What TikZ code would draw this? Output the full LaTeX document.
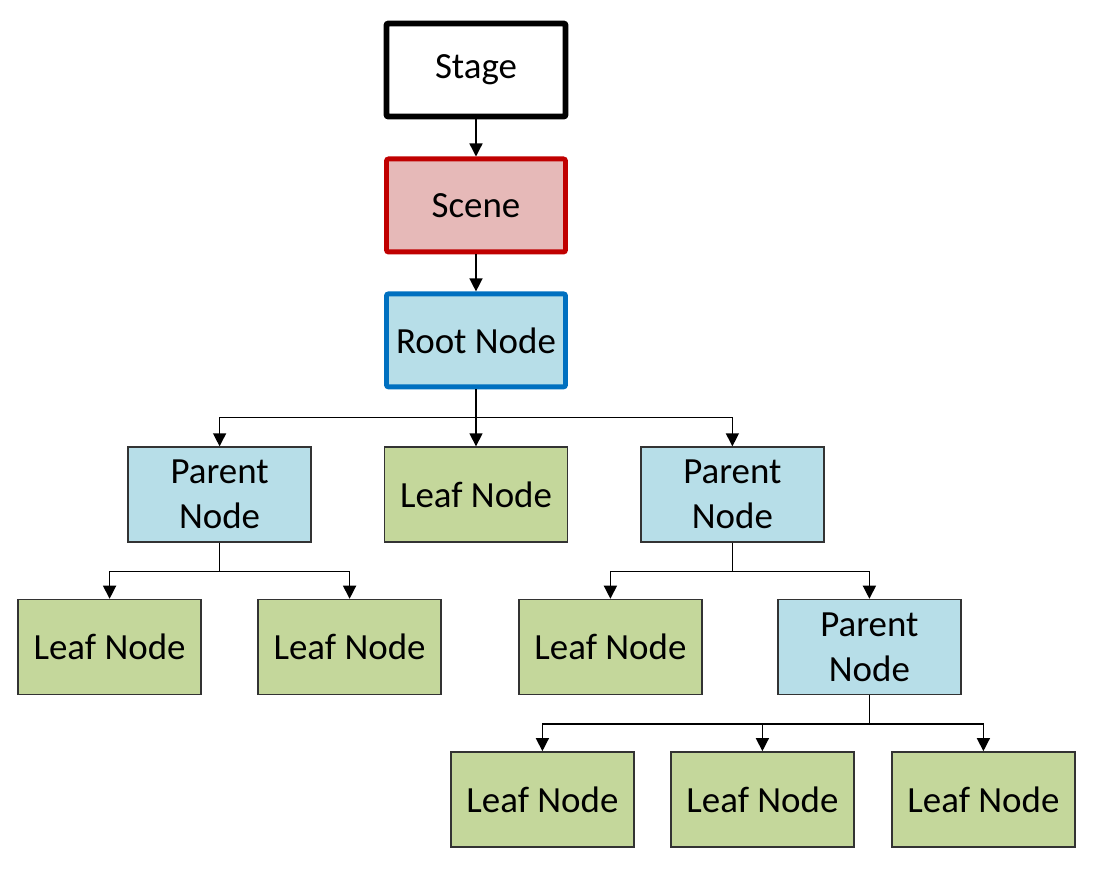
\documentclass[tikz,border=0pt]{standalone}
\usepackage{fontspec}
\setmainfont{Carlito}
\usepackage{tikz}
\usetikzlibrary{positioning}
\usetikzlibrary{arrows.meta}
\usepackage{xcolor}

\definecolor{leafgreen}{HTML}{C4D79B}
\definecolor{parentblue}{HTML}{B7DEE8}
\definecolor{rootborder}{HTML}{0070C0}
\definecolor{scenefill}{HTML}{E6B9B8}
\definecolor{sceneborder}{HTML}{C00000}

\tikzset{
  treebox/.style={rectangle, minimum width=1.79cm, minimum height=0.93cm,
    align=center, font=\fontsize{10.5}{12.8}\selectfont, inner sep=1pt},
  stagebox/.style={treebox, draw=black, line width=1.7pt, fill=white, rounded corners=0.6pt},
  scenebox/.style={treebox, draw=sceneborder, line width=1.4pt, fill=scenefill, rounded corners=0.6pt},
  rootbox/.style={treebox, draw=rootborder, line width=1.4pt, fill=parentblue, rounded corners=0.6pt},
  parent/.style={treebox, draw=black!80, line width=0.4pt, fill=parentblue, minimum width=1.83cm, minimum height=0.95cm},
  leaf/.style={treebox, draw=black!80, line width=0.4pt, fill=leafgreen, minimum width=1.83cm, minimum height=0.95cm},
  link/.style={draw=black, line width=0.4pt, -{Triangle[width=1.3mm, length=1.3mm]}}
}

\begin{document}
\begin{tikzpicture}
  \useasboundingbox (0,0) rectangle (10.93,-8.71);

  \node[stagebox] (stage) at (4.76,-0.70) {Stage};
  \node[scenebox, below=0.37cm of stage] (scene) {Scene};
  \node[rootbox, below=0.37cm of scene] (root) {Root Node};

  \node[leaf, below=0.57cm of root] (lm) {Leaf Node};
  \node[parent, left=0.72cm of lm] (p1) {Parent\\Node};
  \node[parent, right=0.72cm of lm] (p2) {Parent\\Node};

  \node[leaf, below=0.56cm of p1, xshift=-1.10cm] (l1) {Leaf Node};
  \node[leaf, below=0.56cm of p1, xshift=1.30cm] (l2) {Leaf Node};
  \node[leaf, below=0.56cm of p2, xshift=-1.22cm] (l3) {Leaf Node};
  \node[parent, below=0.56cm of p2, xshift=1.37cm] (p3) {Parent\\Node};

  \node[leaf, below=0.56cm of p3, xshift=-3.27cm] (l4) {Leaf Node};
  \node[leaf, below=0.56cm of p3, xshift=-1.07cm] (l5) {Leaf Node};
  \node[leaf, below=0.56cm of p3, xshift=1.14cm] (l6) {Leaf Node};

  % top chain
  \draw[link] (stage) -- (scene);
  \draw[link] (scene) -- (root);

  % root children
  \draw[link] (root) -- (lm);
  \draw[link] (root.south) -- ++(0,-0.28) -| (p1.north);
  \draw[link] (root.south) -- ++(0,-0.28) -| (p2.north);

  % first parent
  \draw[link] (p1.south) -- ++(0,-0.29) -| (l1.north);
  \draw[link] (p1.south) -- ++(0,-0.29) -| (l2.north);

  % second parent
  \draw[link] (p2.south) -- ++(0,-0.29) -| (l3.north);
  \draw[link] (p2.south) -- ++(0,-0.29) -| (p3.north);

  % third parent
  \draw[link] (p3.south) -- ++(0,-0.29) -| (l4.north);
  \draw[link] (p3.south) -- ++(0,-0.29) -| (l5.north);
  \draw[link] (p3.south) -- ++(0,-0.29) -| (l6.north);
\end{tikzpicture}
\end{document}
